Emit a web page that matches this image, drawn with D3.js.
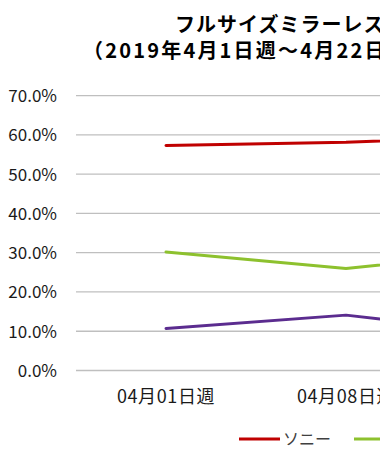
<!DOCTYPE html>
<html><head><meta charset="utf-8">
<script src="https://cdn.jsdelivr.net/npm/d3@7"></script>
<style>
html,body{margin:0;padding:0;background:#fff;overflow:hidden;width:380px;height:462px;}
svg{display:block;}
text{font-family:"Noto Sans CJK JP","Noto Sans",sans-serif;}
</style></head>
<body>
<div id="chart"></div>
<script>
const titleLines = ["フルサイズミラーレス一眼 メーカー別販売台数シェア", "（2019年4月1日週～4月22日週）"];
const categories = ["04月01日週", "04月08日週", "04月15日週", "04月22日週"];
const seriesNames = ["ソニー", "キヤノン", "ニコン"];
const sonyValues = [0.573, 0.581, 0.600, 0.590];
const canonValues = [0.302, 0.260, 0.305, 0.285];
const nikonValues = [0.107, 0.141, 0.090, 0.110];
const yTicks = [0, 0.1, 0.2, 0.3, 0.4, 0.5, 0.6, 0.7];
const colors = ["#C00000", "#8DC12E", "#5B2C8F"];

const W = 380, H = 462;
const svg = d3.select("#chart").append("svg").attr("width", W).attr("height", H);

const plotLeft = 76, bandW = 180;
const x = d3.scaleBand().domain(categories).range([plotLeft, plotLeft + bandW * categories.length]);
const y = d3.scaleLinear().domain([0, 0.7]).range([370.5, 95.6]);

// title
svg.append("text").attr("x", 175).attr("y", 32).attr("font-size", 20).attr("font-weight", "bold")
  .attr("letter-spacing", 1).attr("fill", "#000").text(titleLines[0]);
svg.append("text").attr("x", 83).attr("y", 58).attr("font-size", 20).attr("font-weight", "bold")
  .attr("letter-spacing", 2.2).attr("fill", "#000").text(titleLines[1]);

// gridlines
svg.append("g").selectAll("line").data(yTicks).join("line")
  .attr("x1", plotLeft).attr("x2", plotLeft + bandW * categories.length)
  .attr("y1", d => y(d)).attr("y2", d => y(d))
  .attr("stroke", "#BFBFBF").attr("stroke-width", 1.3);

// y axis
const yAxis = d3.axisLeft(y).tickValues(yTicks).tickFormat(d3.format(".1%")).tickSize(0).tickPadding(0);
const gy = svg.append("g").attr("transform", "translate(57,0)").call(yAxis);
gy.select(".domain").remove();
gy.selectAll("text").attr("font-size", 17).attr("fill", "#1a1a1a")
  .attr("font-family", '"Noto Sans CJK JP",sans-serif').attr("dy", "0.35em");

// x axis
const xAxis = d3.axisBottom(x).tickSize(0).tickPadding(0);
const gx = svg.append("g").attr("transform", "translate(0,389)").call(xAxis);
gx.select(".domain").remove();
gx.selectAll("text").attr("font-size", 18).attr("letter-spacing", 0.6).attr("fill", "#1a1a1a")
  .attr("font-family", '"Noto Sans CJK JP",sans-serif').attr("dy", "0.75em");

// lines
const allSeries = [sonyValues, canonValues, nikonValues];
const line = d3.line().x((d, i) => x(categories[i]) + x.bandwidth() / 2).y(d => y(d));
svg.append("g").selectAll("path").data(allSeries).join("path")
  .attr("d", d => line(d)).attr("fill", "none")
  .attr("stroke", (d, i) => colors[i]).attr("stroke-width", 3)
  .attr("stroke-linejoin", "round").attr("stroke-linecap", "round");

// legend
const legendX = [239, 354, 480];
const lg = svg.append("g").selectAll("g").data(seriesNames).join("g")
  .attr("transform", (d, i) => `translate(${legendX[i]},439)`);
lg.append("line").attr("x1", 0).attr("x2", 41).attr("y1", 0).attr("y2", 0)
  .attr("stroke", (d, i) => colors[i]).attr("stroke-width", 3);
lg.append("text").attr("x", 44).attr("y", 0).attr("dy", "0.35em").attr("font-size", 16)
  .attr("fill", "#404040").text(d => d);
</script>
</body></html>
